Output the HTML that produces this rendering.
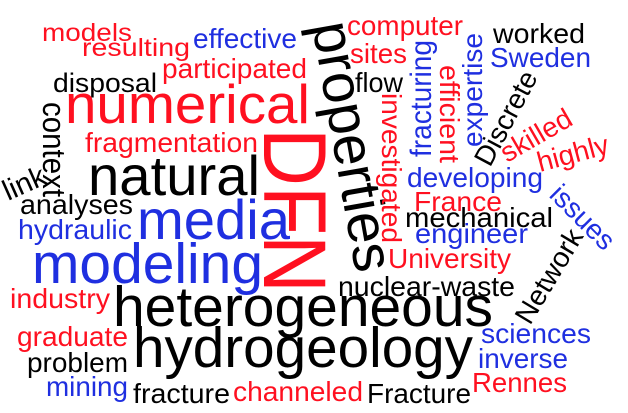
<!DOCTYPE html>
<html>
<head>
<meta charset="utf-8">
<style>
  html, body { margin: 0; padding: 0; background: #ffffff; }
  #cloud { display: block; }
  text { font-family: "Liberation Sans", Arial, sans-serif; }
</style>
</head>
<body>
<svg id="cloud" width="628" height="413" viewBox="0 0 628 413" xmlns="http://www.w3.org/2000/svg">
  <rect x="0" y="0" width="628" height="413" fill="#ffffff"/>
  <g id="words"></g>
</svg>
<script>
const words = ["models","resulting","effective","computer","worked","sites","Sweden","disposal","participated","flow","numerical","fragmentation","natural","analyses","hydraulic","media","modeling","industry","graduate","problem","mining","fracture","channeled","Fracture","heterogeneous","hydrogeology","nuclear-waste","University","engineer","mechanical","France","developing","sciences","inverse","Rennes","properties","DFN","context","investigated","efficient","fracturing","expertise","Discrete","skilled","highly","issues","Network","link"];
const weights = [25,25,28,28,28,28,28,27,28,28,55,28,56,28,28,56,57,28,28,28,28,28,28,28,57,57,28,28,28,28,28,28,28,28,28,57,89,32,28,28,30,28,28,28,28,28,28,29];
const colorKeys = ["r","r","b","r","k","r","b","k","r","k","r","r","k","k","b","b","b","r","r","k","b","k","r","k","k","k","k","r","b","k","r","b","b","b","r","k","r","k","r","r","b","b","k","r","r","b","k","k"];
const layoutX = [42,82,193,347,493,350,490,53,162,355,65,85,88,20,18,137,32,10,17,27,46,133,233,367,113,133,338,388,415,405,414,407,481,478,472,312,264,43,382,440,431,482,490,507,540,548,530,8];
const layoutY = [41,56,48,35,43,63,67,92,78,92,123,152,195,214,239,239,283,308,346,372,396,403,401,403,326,367,296,268,243,227,211,187,343,368,392,25,128,102,93,65,157,147,168,163,172,196,326,201];
const layoutRot = [0,0,0,0,0,0,0,0,0,0,0,0,0,0,0,0,0,0,0,0,0,0,0,0,0,0,0,0,0,0,0,0,0,0,0,80,90,90,90,90,-90,-90,-62,-30,-15,45,-59,-24];
const layoutLen = [90,108,104,116,92,57,101,104,145,48,245,173,172,113,114,153,231,100,111,101,82,97,130,104,380,340,177,123,113,148,88,136,110,90,95,253,165,95,150,98,117,114,103,78,73,79,105,44];

const palette = { r: "#ff1020", b: "#1f2fe0", k: "#000000" };
const svgNS = "http://www.w3.org/2000/svg";
const group = document.getElementById("words");

words.forEach(function (w, i) {
  const t = document.createElementNS(svgNS, "text");
  t.setAttribute("transform", "translate(" + layoutX[i] + "," + layoutY[i] + ") rotate(" + layoutRot[i] + ")");
  t.setAttribute("x", "0");
  t.setAttribute("y", "0");
  t.setAttribute("font-size", weights[i]);
  t.setAttribute("fill", palette[colorKeys[i]]);
  t.setAttribute("textLength", layoutLen[i]);
  t.setAttribute("lengthAdjust", "spacingAndGlyphs");
  t.textContent = w;
  
  
  group.appendChild(t);
});
</script>
</body>
</html>
